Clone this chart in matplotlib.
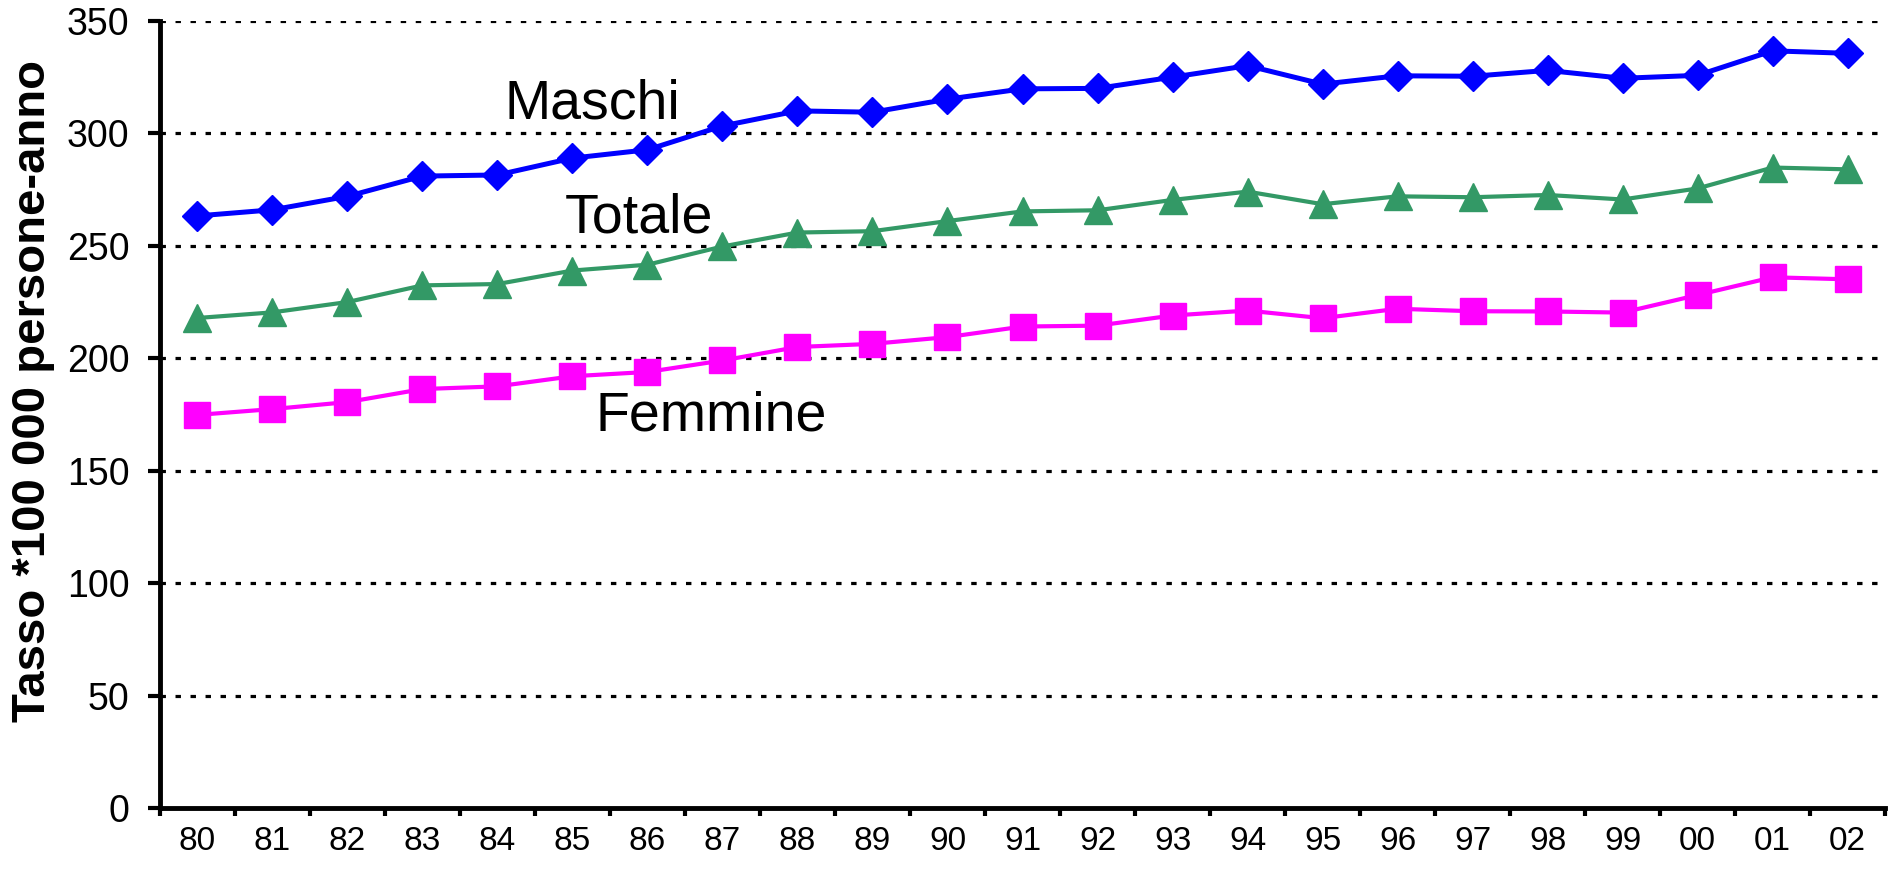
import numpy as np
import matplotlib
matplotlib.use("Agg")
import matplotlib.pyplot as plt

plt.rcParams['font.family'] = ['Liberation Sans', 'DejaVu Sans']

anni = ['80', '81', '82', '83', '84', '85', '86', '87', '88', '89', '90', '91',
        '92', '93', '94', '95', '96', '97', '98', '99', '00', '01', '02']
maschi = [263.3, 266.0, 272.0, 281.0, 281.5, 289.0, 292.7, 303.3, 310.0, 309.4, 315.2, 319.8,
          320.0, 325.0, 330.1, 321.9, 325.6, 325.4, 328.0, 324.5, 325.8, 336.7, 335.6]
totale = [217.9, 220.4, 225.0, 232.4, 233.0, 239.0, 241.6, 249.7, 255.9, 256.5, 261.0, 265.3,
          265.8, 270.4, 274.1, 268.5, 272.0, 271.6, 272.6, 270.6, 275.5, 284.8, 284.0]
femmine = [174.8, 177.4, 180.5, 186.3, 187.5, 192.0, 193.9, 199.0, 205.0, 206.4, 209.4, 214.1,
           214.5, 219.0, 221.2, 217.8, 222.0, 220.9, 220.8, 220.3, 228.1, 236.0, 235.1]
y_ticks = [0, 50, 100, 150, 200, 250, 300, 350]

x = np.arange(len(anni))

fig = plt.figure(figsize=(18.93, 8.72), dpi=100)
ax = fig.add_axes([0.0845, 0.0734, 0.9113, 0.9026])

# griglia a puntini (non sullo zero)
for v in y_ticks[1:]:
    ax.axhline(v, color='black', linewidth=2.3, linestyle=(0, (1.7, 3.0)), zorder=1)

ax.plot(x, maschi, color='#0000FF', linewidth=3.6, marker='D', markersize=15, zorder=3)
ax.plot(x, totale, color='#339966', linewidth=3, marker='^', markersize=20, zorder=3)
ax.plot(x, femmine, color='#FF00FF', linewidth=3, marker='s', markersize=19, zorder=3)

ax.text(5.26, 306.7, 'Maschi', fontsize=40, ha='center', va='baseline', zorder=4)
ax.text(5.88, 256.1, 'Totale', fontsize=40, ha='center', va='baseline', zorder=4)
ax.text(6.85, 167.8, 'Femmine', fontsize=40, ha='center', va='baseline', zorder=4)

ax.set_xlim(-0.5, len(anni) - 0.5)
ax.set_ylim(0, 350)
ax.set_yticks(y_ticks)
ax.set_yticklabels([str(v) for v in y_ticks])
ax.tick_params(axis='y', labelsize=27, length=9, width=3, pad=13, direction='out')

ax.set_xticks(np.arange(-0.5, len(anni), 1))
ax.set_xticklabels([])
ax.set_xticks(x, minor=True)
ax.set_xticklabels(anni, minor=True)
ax.tick_params(axis='x', which='major', length=6, width=3, direction='out')
ax.tick_params(axis='x', which='minor', length=0, labelsize=24, pad=13)

for s in ['top', 'right']:
    ax.spines[s].set_visible(False)
for s in ['left', 'bottom']:
    ax.spines[s].set_linewidth(3.5)

fig.text(33 / 1893, 1 - 391 / 872, 'Tasso *100 000 persone-anno', rotation=90,
         fontsize=34, fontweight='bold', ha='center', va='center')

fig.savefig('out.png', dpi=100)
